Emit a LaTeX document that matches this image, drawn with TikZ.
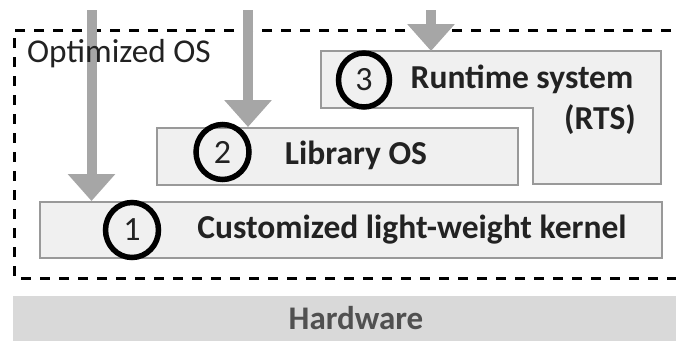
\documentclass[tikz,border=0pt]{standalone}
\usepackage{fontspec}
\setmainfont{Carlito}
\usetikzlibrary{arrows.meta}
\definecolor{boxfill}{HTML}{F0F0F0}
\definecolor{boxline}{HTML}{999999}
\definecolor{arrowgray}{HTML}{A6A6A6}
\definecolor{hwfill}{HTML}{D9D9D9}
\definecolor{hwtext}{HTML}{505050}
\definecolor{txt}{HTML}{222222}
\tikzset{
  layerbox/.style={draw=boxline, fill=boxfill, line width=1.5pt},
  numring/.style={draw=black, line width=5.5pt},
  bigarrow/.style={draw=arrowgray, line width=10pt, -{Triangle[width=46pt,length=27pt]}},
  boldlabel/.style={font=\fontsize{33.5}{36}\selectfont\bfseries, text=txt, inner sep=0pt},
  numlabel/.style={font=\fontsize{34}{36}\selectfont, text=txt, inner sep=0pt},
}
\begin{document}
\begin{tikzpicture}[x=1pt,y=-1pt]
\useasboundingbox (0,0) rectangle (676,343);
\fill[white] (0,0) rectangle (676,343);
% hardware
\node[fill=hwfill, minimum width=663pt, minimum height=45pt, inner sep=0pt, anchor=north west] (hw) at (13,296) {};
\node[font=\fontsize{33}{36}\selectfont\bfseries, text=hwtext, inner sep=0pt] (hwt) at (356,318) {Hardware};
% dashed boundary
\draw[black, line width=3pt, dash pattern=on 10pt off 9pt] (690,30) -- (14,30) -- (14,278) -- (690,278);
% layer boxes
\node[layerbox, minimum width=622pt, minimum height=56pt, inner sep=0pt, anchor=north west] (box1) at (39,201) {};
\node[layerbox, minimum width=361pt, minimum height=57pt, inner sep=0pt, anchor=north west] (box2) at (156,127) {};
\coordinate (r1) at (321,51);
\coordinate (r2) at (661,51);
\coordinate (r3) at (661,184);
\coordinate (r4) at (533,184);
\coordinate (r5) at (533,108);
\coordinate (r6) at (321,108);
\draw[layerbox] (r1) -- (r2) -- (r3) -- (r4) -- (r5) -- (r6) -- cycle;
% arrows
\coordinate (a1) at (91.5,10);
\coordinate (a2) at (248,10);
\coordinate (a3) at (431,10);
\draw[bigarrow] (a1) -- (a1 |- box1.north);
\draw[bigarrow] (a2) -- (a2 |- box2.north);
\draw[bigarrow] (a3) -- (a3 |- r1);
\node[font=\fontsize{33.3}{36}\selectfont, text=txt, inner sep=0pt, anchor=west] (opt) at (27,54) {Optimized OS};
% circles
\draw[numring] (132,230) ellipse [x radius=26.5pt, y radius=27.5pt];
\node[numlabel] (n1) at (132,230) {1};
\draw[numring] (222.5,152) ellipse [x radius=26.5pt, y radius=27.5pt];
\node[numlabel] (n2) at (222.5,152) {2};
\draw[numring] (364,80) ellipse [x radius=25.5pt, y radius=27pt];
\node[numlabel] (n3) at (364,80) {3};
% labels
\node[boldlabel] (t1) at (412,230) {Customized light-weight kernel};
\node[boldlabel] (t2) at (356,155) {Library OS};
\node[boldlabel] (t3) at (522,79) {Runtime system};
\node[boldlabel, anchor=east] (t4) at (636,120) {(RTS)};
\end{tikzpicture}
\end{document}
